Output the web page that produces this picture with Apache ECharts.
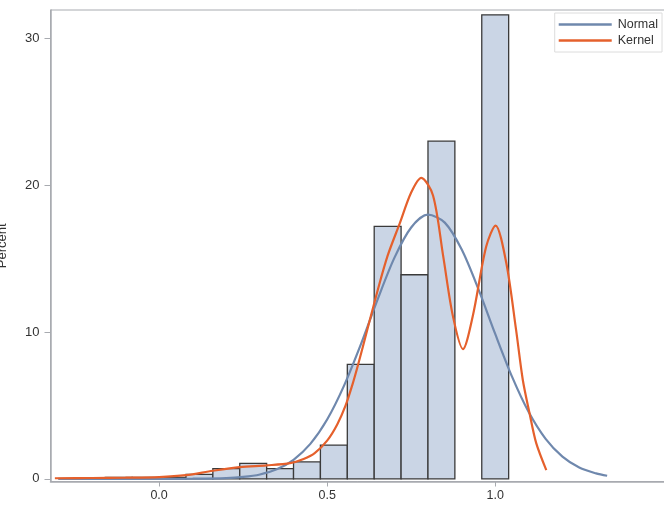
<!DOCTYPE html>
<html>
<head>
<meta charset="utf-8">
<script src="https://cdn.jsdelivr.net/npm/echarts@6/dist/echarts.min.js"></script>
<style>
  html, body { margin: 0; padding: 0; background: #fff; }
  #main { width: 664px; height: 505px; }
</style>
</head>
<body>
<div id="main"></div>
<script>
// histogram bins (midpoints) and percent per bin
var binMid = [-0.12, -0.04, 0.04, 0.12, 0.20, 0.28, 0.36, 0.44, 0.52, 0.60, 0.68, 0.76, 0.84, 0.92, 1.00];
var binPct = [0.1, 0.1, 0.1, 0.3, 0.7, 1.05, 0.7, 1.15, 2.3, 7.8, 17.2, 13.9, 23.0, 0, 31.6];
var binWidth = 0.08;

// fitted normal curve
var normalX = [-0.3, -0.2, -0.1, 0.0, 0.1, 0.2, 0.25, 0.3, 0.35, 0.4, 0.45, 0.5, 0.55, 0.6, 0.65, 0.7, 0.75, 0.8, 0.85, 0.9, 0.95, 1.0, 1.05, 1.1, 1.15, 1.2, 1.25, 1.3, 1.333];
var normalY = [0, 0, 0, 0, 0.01, 0.05, 0.13, 0.3, 0.65, 1.3, 2.38, 4.04, 6.33, 9.14, 12.21, 15.05, 17.12, 17.99, 17.45, 15.63, 12.92, 9.87, 6.96, 4.53, 2.72, 1.51, 0.77, 0.37, 0.21];

// kernel density curve
var kernelX = [-0.31, -0.2, -0.1, 0.0, 0.08, 0.16, 0.24, 0.32, 0.39, 0.43, 0.463, 0.50, 0.53, 0.555, 0.575, 0.592, 0.62, 0.651, 0.68, 0.716, 0.75, 0.78, 0.815, 0.845, 0.874, 0.904, 0.933, 0.973, 1.001, 1.033, 1.062, 1.082, 1.102, 1.122, 1.152];
var kernelY = [0.04, 0.06, 0.08, 0.12, 0.25, 0.55, 0.8, 0.92, 1.07, 1.35, 1.75, 2.6, 3.7, 5.0, 6.4, 7.77, 10.2, 12.9, 15.2, 17.4, 19.5, 20.5, 19.3, 15.2, 11.1, 8.84, 11.06, 15.8, 17.25, 14.7, 10.16, 6.75, 4.48, 2.43, 0.6];

var xTicks = [0, 0.5, 1.0];
var yTicks = [0, 10, 20, 30];

function pairs(xs, ys) {
  return xs.map(function (x, i) { return [x, ys[i]]; });
}

var chart = echarts.init(document.getElementById('main'));
var font = '"Liberation Sans", Arial, sans-serif';

var option = {
  animation: false,
  textStyle: { fontFamily: font },
  grid: {
    left: 50.5, top: 10, right: -6, bottom: 23.5,
    containLabel: false,
    outerBoundsMode: 'none',
    show: true, borderColor: '#a8abb0', borderWidth: 1
  },
  legend: {
    data: ['Normal', 'Kernel'],
    orient: 'vertical',
    right: 2, top: 13,
    icon: 'rect',
    itemWidth: 53, itemHeight: 2.5,
    itemGap: 3,
    padding: [5, 4, 5, 4],
    borderColor: '#dcdcdc', borderWidth: 1,
    textStyle: { fontSize: 12.5, color: '#333', fontFamily: font, padding: [0, 0, 0, 1] }
  },
  xAxis: {
    type: 'value',
    min: -0.323, max: 1.52,
    splitLine: { show: false },
    axisLine: { onZero: false, lineStyle: { color: '#a8abb0', width: 1.5 } },
    axisTick: { length: 5, lineStyle: { color: '#a8abb0' }, customValues: xTicks },
    axisLabel: {
      customValues: xTicks, color: '#333', fontSize: 12.5, margin: 8,
      formatter: function (v) { return v.toFixed(1); }
    }
  },
  yAxis: {
    type: 'value',
    min: -0.18, max: 31.93,
    name: 'Percent',
    nameLocation: 'middle',
    nameGap: 42,
    nameTextStyle: { fontSize: 13, color: '#333' },
    splitLine: { show: false },
    axisLine: { show: true, onZero: false, lineStyle: { color: '#a8abb0', width: 1.5 } },
    axisTick: { show: true, length: 6, lineStyle: { color: '#a8abb0' }, customValues: yTicks },
    axisLabel: { customValues: yTicks, color: '#333', fontSize: 13, margin: 11 }
  },
  series: [
    {
      name: 'Histogram',
      type: 'custom',
      data: pairs(binMid, binPct),
      renderItem: function (params, api) {
        var x = api.value(0), y = api.value(1);
        if (y <= 0) return null;
        var p0 = api.coord([x - binWidth / 2, y]);
        var p1 = api.coord([x + binWidth / 2, 0]);
        return {
          type: 'rect',
          shape: { x: p0[0], y: p0[1], width: p1[0] - p0[0], height: p1[1] - p0[1] },
          style: { fill: '#cad5e5', stroke: '#3a3a3a', lineWidth: 1.3 }
        };
      },
      z: 1
    },
    {
      name: 'Normal',
      type: 'line',
      data: pairs(normalX, normalY),
      smooth: 0.3,
      showSymbol: false,
      color: '#6f88ad',
      lineStyle: { color: '#6f88ad', width: 2.2 },
      z: 2
    },
    {
      name: 'Kernel',
      type: 'line',
      data: pairs(kernelX, kernelY),
      smooth: 0.3,
      showSymbol: false,
      color: '#e5602c',
      lineStyle: { color: '#e5602c', width: 2.2 },
      z: 3
    }
  ]
};

chart.setOption(option);
</script>
</body>
</html>
